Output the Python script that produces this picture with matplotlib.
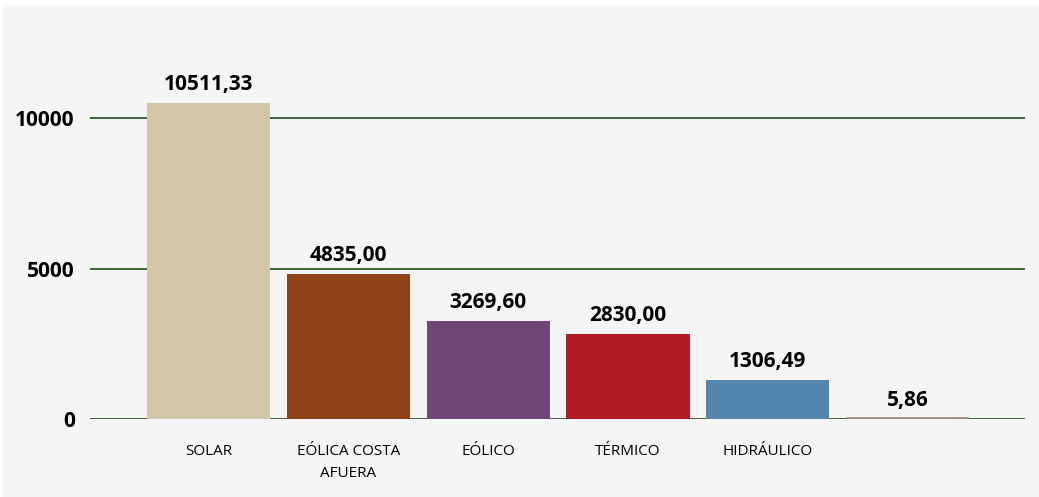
import matplotlib.pyplot as plt
from matplotlib.patches import Rectangle

plt.rcParams['font.family'] = ['Open Sans', 'DejaVu Sans']

categorias = ['SOLAR', 'EÓLICA COSTA\nAFUERA', 'EÓLICO', 'TÉRMICO', 'HIDRÁULICO', '']
valores = [10511.33, 4835.00, 3269.60, 2830.00, 1306.49, 5.86]
colores = ['#d3c5a7', '#8f4417', '#6f4677', '#b11c22', '#5587ae', '#9b8a6f']
yticks = [0, 5000, 10000]

fig = plt.figure(figsize=(10.39, 4.97), dpi=100, facecolor='white')

# fondo gris del área del gráfico, en un eje aparte por debajo
bg = fig.add_axes([0, 0, 1, 1], zorder=-10)
bg.set_axis_off()
bg.add_patch(Rectangle((3 / 1039, 0), 1, 1 - 5 / 497, transform=bg.transAxes,
                       facecolor='#f5f5f5', edgecolor='none'))

ax = fig.add_axes([0.0866, 0.157, 0.900, 0.726])
ax.set_facecolor('none')

x = range(len(categorias))
bars = ax.bar(x, valores, width=0.88, color=colores, zorder=3)
# borde del mismo color para que la barra casi nula siga viéndose
bars[-1].set_edgecolor(colores[-1])
bars[-1].set_linewidth(2.6)

for xi, v in zip(x, valores):
    ax.annotate(f'{v:.2f}'.replace('.', ','), (xi, v), xytext=(0, 9),
                textcoords='offset points', ha='center', va='baseline',
                fontsize=15, fontweight='bold', color='black')

ax.set_xlim(-0.848, 5.84)
ax.set_ylim(0, 12000)
ax.set_yticks(yticks)
ax.set_yticklabels([str(t) for t in yticks], fontsize=15, fontweight='bold')
ax.set_xticks(list(x))
ax.set_xticklabels(categorias, fontsize=11, linespacing=1.6)
ax.tick_params(axis='both', length=0)
ax.tick_params(axis='x', pad=18)
ax.tick_params(axis='y', pad=11)

for t in yticks:
    ax.axhline(t, color='#2f5a2a', linewidth=1.3, zorder=1)

for s in ax.spines.values():
    s.set_visible(False)

fig.savefig('out.png', dpi=100, facecolor=fig.get_facecolor())
